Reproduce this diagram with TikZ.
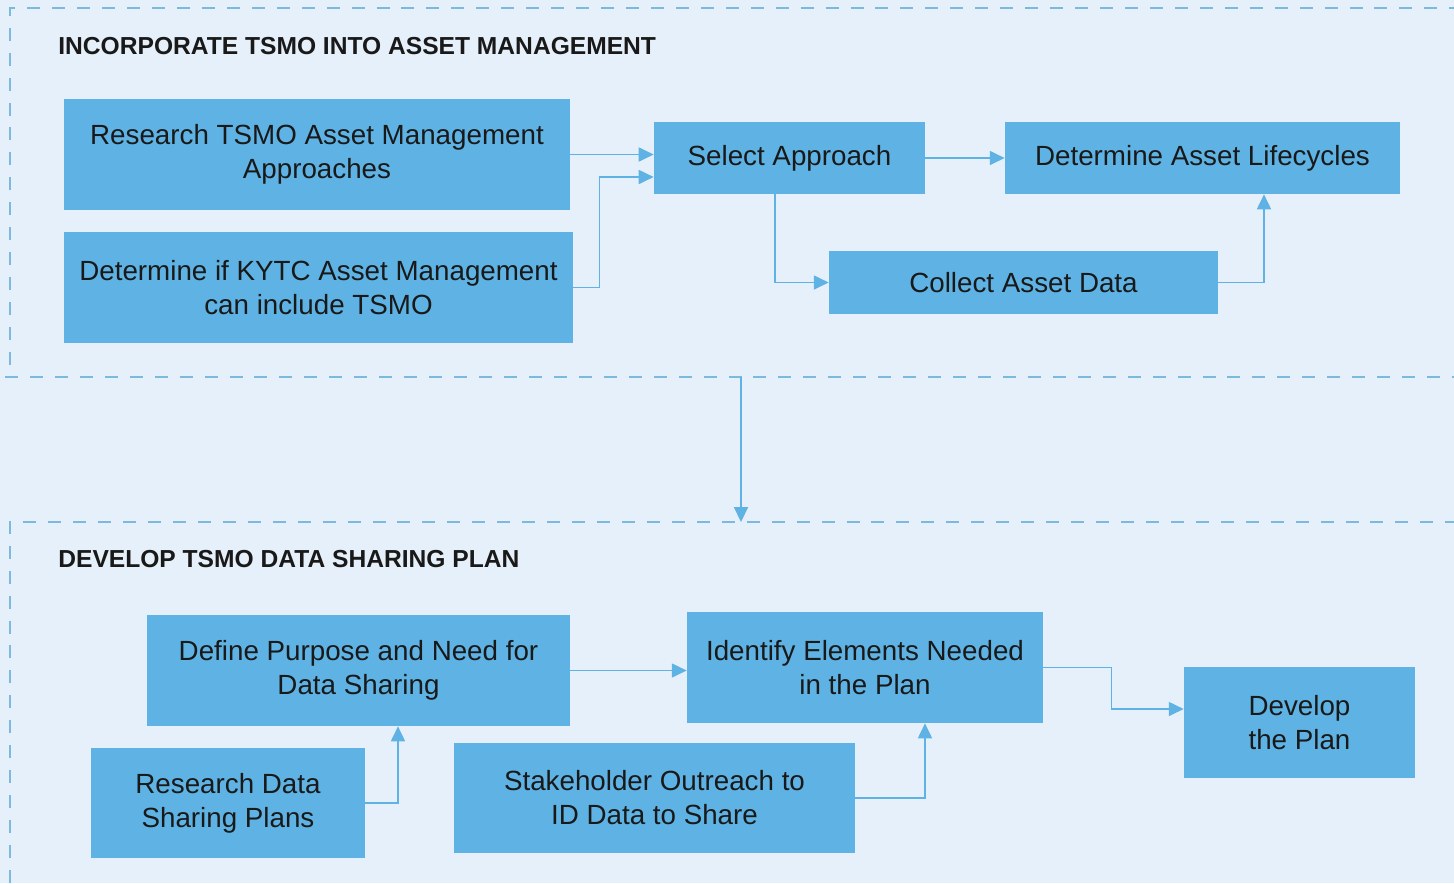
\documentclass[tikz,border=0pt]{standalone}
\usepackage{fontspec}
\setmainfont{Liberation Sans}
\usepackage{xcolor}
\usepackage{tikz}
\usetikzlibrary{arrows.meta}

\definecolor{bgblue}{HTML}{E6F0FA}
\definecolor{boxblue}{HTML}{5EB3E4}
\definecolor{lineblue}{HTML}{7DB9DC}

\tikzset{
    stepbox/.style={fill=boxblue, draw=none, inner sep=0pt, align=center,
        font=\fontsize{15.8}{19.3}\selectfont, text=black!90},
    flow/.style={draw=boxblue, line width=0.85pt,
        -{Triangle[length=8.5pt,width=8pt]}},
    frame/.style={draw=lineblue, line width=1pt, dash pattern=on 7.4pt off 6.8pt},
    heading/.style={anchor=west, inner sep=0pt, font=\bfseries\fontsize{14}{16}\selectfont, text=black!90}
}

\begin{document}
\begin{tikzpicture}[x=0.02cm, y=-0.02cm]
    \fill[bgblue] (0,0) rectangle (1454,883);
    \useasboundingbox (0,0) rectangle (1454,883);

    \draw[frame] (10,365) -- (10,8) -- (1454,8);
    \draw[frame] (5,377) -- (1454,377);
    \draw[frame] (10,883) -- (10,522) -- (1454,522);

    \node[heading] (h1) at (58,46) {INCORPORATE TSMO INTO ASSET MANAGEMENT};
    \node[heading] (h2) at (58,559) {DEVELOP TSMO DATA SHARING PLAN};

    \node[stepbox, minimum width=10.12cm, minimum height=2.22cm] (research) at (317,154.5) {Research TSMO Asset Management\\Approaches};
    \node[stepbox, minimum width=10.18cm, minimum height=2.22cm] (kytc) at (318.5,287.5) {Determine if KYTC Asset Management\\can include TSMO};
    \node[stepbox, minimum width=5.42cm, minimum height=1.44cm] (select) at (789.5,158) {Select Approach};
    \node[stepbox, minimum width=7.9cm, minimum height=1.44cm] (life) at (1202.5,158) {Determine Asset Lifecycles};
    \node[stepbox, minimum width=7.78cm, minimum height=1.26cm] (collect) at (1023.5,282.5) {Collect Asset Data};

    \node[stepbox, minimum width=8.46cm, minimum height=2.22cm] (purpose) at (358.5,670.5) {Define Purpose and Need for\\Data Sharing};
    \node[stepbox, minimum width=5.48cm, minimum height=2.2cm] (plans) at (228,803) {Research Data\\Sharing Plans};
    \node[stepbox, minimum width=7.12cm, minimum height=2.22cm] (elements) at (865,667.5) {Identify Elements Needed\\in the Plan};
    \node[stepbox, minimum width=8.02cm, minimum height=2.2cm] (outreach) at (654.5,798) {Stakeholder Outreach to\\ID Data to Share};
    \node[stepbox, minimum width=4.62cm, minimum height=2.22cm] (develop) at (1299.5,722.5) {Develop\\the Plan};

    \coordinate (s1) at (741,377);
    \coordinate (s2) at (741,522);

    \draw[flow] (research.east) -- (research.east -| select.west);
    \draw[flow] (kytc.east) -- ++(26,0) |- ([yshift=-0.38cm]select.west);
    \draw[flow] (select.east) -- (life.west);
    \draw[flow] ([xshift=-0.29cm]select.south) |- (collect.west);
    \draw[flow] (collect.east) -| ([xshift=1.23cm]life.south);
    \draw[flow] (s1) -- (s2);
    \draw[flow] (purpose.east) -- (purpose.east -| elements.west);
    \draw[flow] (plans.east) -| ([xshift=0.79cm]purpose.south);
    \draw[flow] (outreach.east) -| ([xshift=1.2cm]elements.south);
    \draw[flow] (elements.east) -- ++(68,0) |- ([yshift=0.27cm]develop.west);

\end{tikzpicture}
\end{document}
